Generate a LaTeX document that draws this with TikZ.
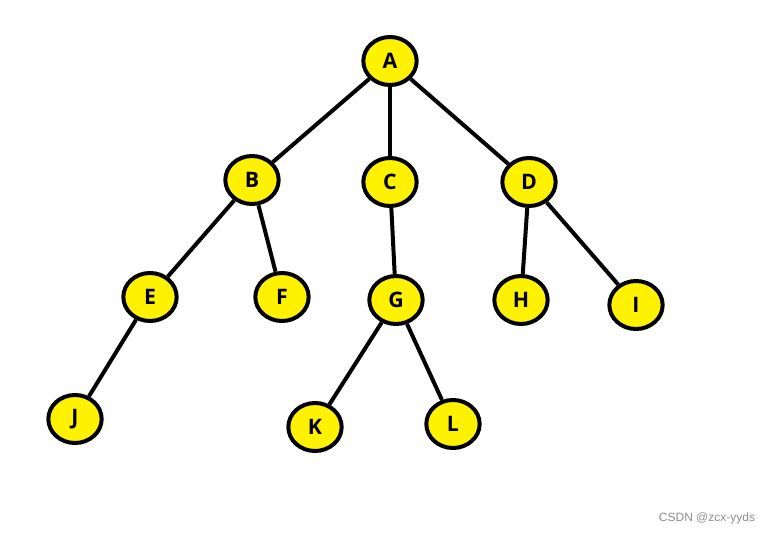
\documentclass[tikz,border=0pt]{standalone}
\usepackage{fontspec}
\setmainfont{Open Sans}
\setsansfont{Liberation Sans}
\usetikzlibrary{shapes.geometric}
\definecolor{vyellow}{RGB}{255,242,0}

\begin{document}
\begin{tikzpicture}[x=0.75pt, y=-0.75pt,
        vtx/.style={ellipse, draw=black, fill=vyellow, line width=3pt,
            minimum width=40pt, minimum height=36pt, inner sep=0pt,
            font=\fontsize{16}{16}\selectfont\bfseries},
        edge/.style={line width=3pt}]
            \useasboundingbox (0,0) rectangle (773,535);
            \node[vtx] (a) at (390,61) {A};
            \node[vtx] (b) at (252,180) {B};
            \node[vtx] (c) at (390,182) {C};
            \node[vtx] (d) at (529,182) {D};
            \node[vtx] (e) at (150,297) {E};
            \node[vtx] (f) at (282,297) {F};
            \node[vtx] (g) at (396,300) {G};
            \node[vtx] (h) at (521,300) {H};
            \node[vtx] (i) at (636,305) {I};
            \node[vtx] (j) at (75,419) {J};
            \node[vtx] (k) at (315,427) {K};
            \node[vtx] (l) at (453,424) {L};
            \draw[edge] (a) -- (b);
            \draw[edge] (a) -- (c);
            \draw[edge] (a) -- (d);
            \draw[edge] (b) -- (e);
            \draw[edge] (b) -- (f);
            \draw[edge] (c) -- (g);
            \draw[edge] (d) -- (h);
            \draw[edge] (d) -- (i);
            \draw[edge] (e) -- (j);
            \draw[edge] (g) -- (k);
            \draw[edge] (g) -- (l);
            \node[text=black!45, font=\sffamily\fontsize{9}{9}\selectfont] (mark) at (707,518) {CSDN @zcx-yyds};
        \end{tikzpicture}
\end{document}
